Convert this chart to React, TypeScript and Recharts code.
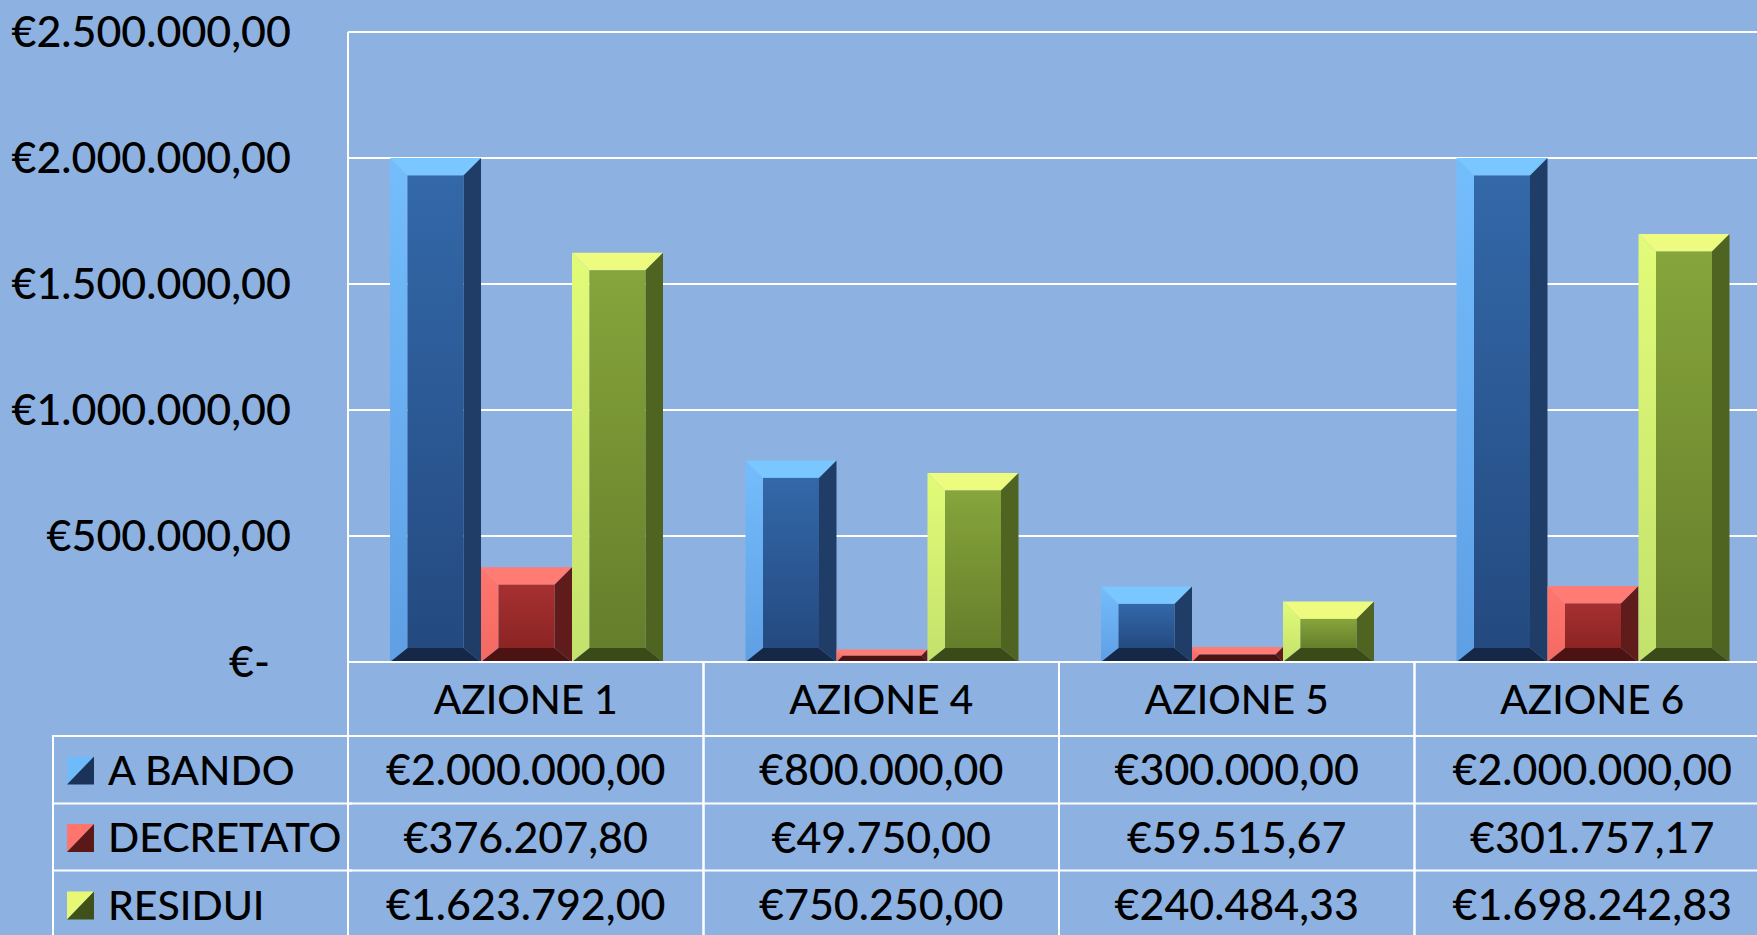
import React from 'react';
import { BarChart, Bar, XAxis, YAxis, CartesianGrid, Legend } from 'recharts';

// ---- data ----
const categories = ['AZIONE 1', 'AZIONE 4', 'AZIONE 5', 'AZIONE 6'];
const seriesNames = ['A BANDO', 'DECRETATO', 'RESIDUI'];
const aBando = [2000000, 800000, 300000, 2000000];
const decretato = [376207.8, 49750.0, 59515.67, 301757.17];
const residui = [1623792.0, 750250.0, 240484.33, 1698242.83];
const yTicks = [0, 500000, 1000000, 1500000, 2000000, 2500000];

const seriesKeys = ['aBando', 'decretato', 'residui'];
const seriesValues: number[][] = [aBando, decretato, residui];

const data = categories.map((c, i) => ({
  name: c,
  aBando: aBando[i],
  decretato: decretato[i],
  residui: residui[i],
}));

const fmtEuro = (v: number) => {
  if (v === 0) return '€-';
  const [intPart, dec] = v.toFixed(2).split('.');
  return '€' + intPart.replace(/\B(?=(\d{3})+(?!\d))/g, '.') + ',' + dec;
};

// ---- styles ----
const BG = '#8db2e2';
const FONT = 'Lato, "Open Sans", sans-serif';
const FW = 500;
const FS_NUM = 43;
const FS_CAT = 40.5;
const FS_LEG = 41;

const palettes: Record<string, any> = {
  aBando: {
    id: 'pb', top: '#79c7fe', leftTop: '#74bdfc', leftBottom: '#5f9fe4',
    centerTop: '#3368a9', centerBottom: '#244a80', right: '#1f3d66', bottom: '#152848',
    iconLight: '#6fbaf9', iconDark: '#1b3358',
  },
  decretato: {
    id: 'pr', top: '#ff7b73', leftTop: '#ff766e', leftBottom: '#f26a62',
    centerTop: '#a63030', centerBottom: '#8c2424', right: '#601b1b', bottom: '#4d1212',
    iconLight: '#ff746c', iconDark: '#5a1818',
  },
  residui: {
    id: 'pg', top: '#edfb7f', leftTop: '#e2fb78', leftBottom: '#c3e26c',
    centerTop: '#86a53b', centerBottom: '#657e2b', right: '#4f6421', bottom: '#3b4b17',
    iconLight: '#e6f874', iconDark: '#3f5018',
  },
};

const renderBevel = (props: any, pal: any) => {
  const { x, y, width: w, height: h } = props;
  if (w == null || h == null || !(h > 0)) return <g />;
  const d = Math.min(17.5, h / 2, w / 2);
  const bb = Math.min(14, h / 2);
  const X0 = x, X1 = x + w, Y0 = y, Y1 = y + h;
  const ix0 = x + d, ix1 = x + w - d, iy0 = y + d, iy1 = y + h - bb;
  return (
    <g>
      <polygon points={`${X0},${Y1} ${X0},${Y0} ${ix0},${iy0} ${ix0},${iy1}`} fill={`url(#${pal.id}-left)`} />
      <polygon points={`${X0},${Y0} ${X1},${Y0} ${ix1},${iy0} ${ix0},${iy0}`} fill={pal.top} />
      <polygon points={`${X1},${Y0} ${X1},${Y1} ${ix1},${iy1} ${ix1},${iy0}`} fill={pal.right} />
      <polygon points={`${X0},${Y1} ${ix0},${iy1} ${ix1},${iy1} ${X1},${Y1}`} fill={pal.bottom} />
      <rect x={ix0} y={iy0} width={Math.max(0, ix1 - ix0)} height={Math.max(0, iy1 - iy0)} fill={`url(#${pal.id}-center)`} />
    </g>
  );
};

const YTick = (props: any) => {
  const { y, payload } = props;
  const v = payload.value;
  const xr = v === 0 ? 270 : 291;
  return (
    <text x={xr} y={y + 15} textAnchor="end" fontFamily={FONT} fontWeight={FW} fontSize={FS_NUM} fill="#000">
      {fmtEuro(v)}
    </text>
  );
};

const TableTick = (props: any) => {
  const { x, y, payload } = props;
  const i = payload?.index ?? props.index ?? 0;
  let band = 355.5;
  if (payload && payload.offset) band = payload.offset * 2;
  else if (props.width && props.visibleTicksCount) band = props.width / props.visibleTicksCount;
  const left = x - band / 2;
  const right = x + band / 2;
  const rowCenters = [107.5, 175.5, 242.5];
  const lines = [74, 141.5, 208.6];
  return (
    <g>
      <line x1={left} y1={y} x2={left} y2={y + 280} stroke="#fff" strokeWidth={2} />
      <line x1={right} y1={y} x2={right} y2={y + 280} stroke="#fff" strokeWidth={2} />
      {lines.map((ly, k) => (
        <line key={k} x1={left} y1={y + ly} x2={right} y2={y + ly} stroke="#fff" strokeWidth={2} />
      ))}
      <text x={x} y={y + 37 + 15} textAnchor="middle" fontFamily={FONT} fontWeight={FW} fontSize={FS_CAT} fill="#000">
        {payload.value}
      </text>
      {seriesValues.map((vals, k) => (
        <text key={k} x={x} y={y + rowCenters[k] + 15} textAnchor="middle" fontFamily={FONT} fontWeight={FW} fontSize={FS_NUM} fill="#000">
          {fmtEuro(vals[i])}
        </text>
      ))}
    </g>
  );
};

const LegendTable = (props: any) => {
  const items = props.payload || [];
  const centers = [34.5, 102, 169.5];
  const lines = [1, 68.5, 135.6];
  return (
    <svg width={300} height={205} style={{ display: 'block', overflow: 'visible' }}>
      {lines.map((ly, k) => (
        <line key={k} x1={1} y1={ly} x2={300} y2={ly} stroke="#fff" strokeWidth={2} />
      ))}
      <line x1={1} y1={0} x2={1} y2={205} stroke="#fff" strokeWidth={2} />
      {items.map((it: any, k: number) => {
        const pal = palettes[it.dataKey] || palettes[seriesKeys[k]];
        const cy = centers[k];
        const ix = 15, iw = 27, ih = 28, iy = cy - 13;
        return (
          <g key={k}>
            <polygon points={`${ix},${iy} ${ix + iw},${iy} ${ix},${iy + ih}`} fill={pal.iconLight} />
            <polygon points={`${ix + iw},${iy} ${ix + iw},${iy + ih} ${ix},${iy + ih}`} fill={pal.iconDark} />
            <text x={56} y={cy + 15} fontFamily={FONT} fontWeight={FW} fontSize={FS_LEG} fill="#000">
              {it.value}
            </text>
          </g>
        );
      })}
    </svg>
  );
};

export default function App() {
  return (
    <div
      style={{
        position: 'fixed', left: 0, top: 0, width: 1757, height: 935,
        overflow: 'hidden', background: BG, fontFamily: FONT,
      }}
    >
      <BarChart
        width={1770}
        height={935}
        data={data}
        margin={{ top: 32, right: 0, bottom: 0, left: 0 }}
        barCategoryGap={42}
        barGap={0}
      >
        <defs>
          {seriesKeys.map((k) => {
            const p = palettes[k];
            return (
              <React.Fragment key={k}>
                <linearGradient id={`${p.id}-left`} x1="0" y1="0" x2="0" y2="1">
                  <stop offset="0%" stopColor={p.leftTop} />
                  <stop offset="100%" stopColor={p.leftBottom} />
                </linearGradient>
                <linearGradient id={`${p.id}-center`} x1="0" y1="0" x2="0" y2="1">
                  <stop offset="0%" stopColor={p.centerTop} />
                  <stop offset="100%" stopColor={p.centerBottom} />
                </linearGradient>
              </React.Fragment>
            );
          })}
        </defs>
        <CartesianGrid horizontal vertical={false} stroke="#ffffff" strokeWidth={2} />
        <YAxis
          width={348}
          domain={[0, 2500000]}
          ticks={yTicks}
          interval={0}
          tick={<YTick />}
          tickLine={false}
          axisLine={{ stroke: '#ffffff', strokeWidth: 2 }}
        />
        <XAxis
          dataKey="name"
          height={273}
          interval={0}
          tickLine={false}
          tickSize={0}
          tickMargin={0}
          axisLine={{ stroke: '#ffffff', strokeWidth: 2 }}
          tick={<TableTick />}
        />
        <Legend
          layout="vertical"
          align="center"
          verticalAlign="middle"
          content={<LegendTable />}
          wrapperStyle={{ position: 'absolute', left: 52, top: 735, width: 300, height: 205 }}
        />
        {seriesKeys.map((k, idx) => (
          <Bar
            key={k}
            dataKey={k}
            name={seriesNames[idx]}
            fill={palettes[k].centerTop}
            isAnimationActive={false}
            shape={(p: any) => renderBevel(p, palettes[k])}
          />
        ))}
      </BarChart>
    </div>
  );
}
